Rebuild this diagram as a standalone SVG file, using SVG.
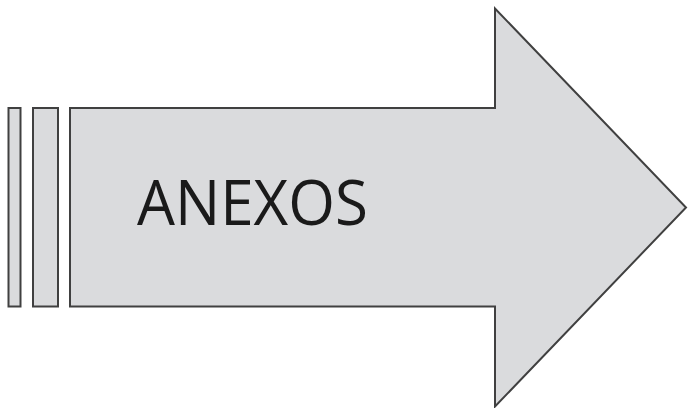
<svg xmlns="http://www.w3.org/2000/svg" width="688" height="408" viewBox="0 0 688 408">
<style>
.s{fill:#dadbdd;stroke:#404040;stroke-width:2;stroke-linejoin:miter}
.t{font-family:"Open Sans","Liberation Sans",sans-serif;font-size:62px;fill:#1a1a1a}
</style>
<rect width="688" height="408" fill="#ffffff"/>
<g id="arrow">
<rect class="s" x="8.5" y="108" width="12" height="198.5"/>
<rect class="s" x="33" y="108" width="25" height="198.5"/>
<path class="s" d="M70,108 L495,108 L495,8.5 L686,207.5 L495,406.5 L495,306.5 L70,306.5 Z"/>
<text class="t" x="137" y="225" textLength="231" lengthAdjust="spacingAndGlyphs">ANEXOS</text>
</g>
</svg>
